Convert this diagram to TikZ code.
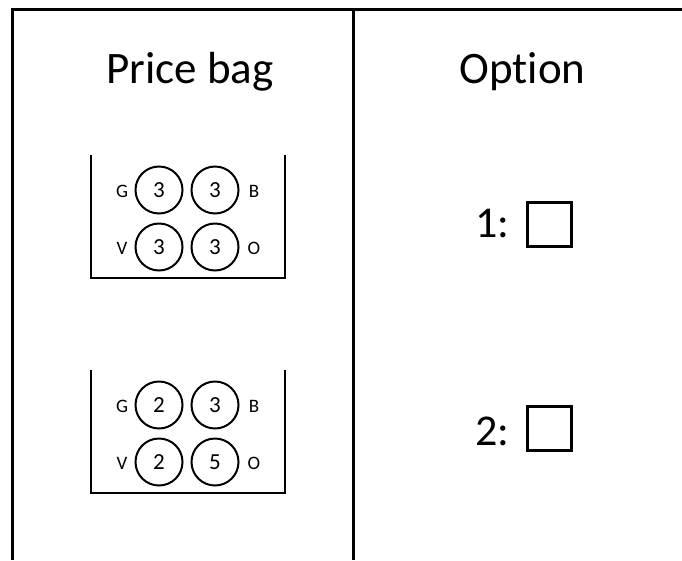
\documentclass[tikz,border=0pt]{standalone}
\usepackage{fontspec}
\setmainfont{Carlito}[Ligatures={NoCommon}]
\begin{document}
\begin{tikzpicture}[x=1pt,y=-1pt,
  frame/.style={line width=3pt},
  bagline/.style={line width=2.5pt},
  ball/.style={circle,draw,line width=2pt,minimum size=47pt,inner sep=0pt,font=\fontsize{23}{26}\selectfont},
  colorlbl/.style={anchor=base,inner sep=0pt,font=\fontsize{19}{22}\selectfont},
  heading/.style={anchor=base,inner sep=0pt,font=\fontsize{45}{54}\selectfont},
  optlbl/.style={anchor=base west,inner sep=0pt,font=\fontsize{44}{52}\selectfont},
  tick/.style={draw,line width=2.5pt,minimum size=44pt,inner sep=0pt}]
\useasboundingbox (0,0) rectangle (682,560);
% frame
\coordinate (tl) at (12.5,9.5);
\coordinate (tr) at (682,9.5);
\coordinate (bl) at (12.5,560);
\coordinate (tm) at (353.5,9.5);
\coordinate (bm) at (353.5,560);
\draw[frame] (tr) -- (tl) -- (bl);
\draw[frame] (tm) -- (bm);
% headings
\node[heading] (h1) at (190,83) {Price bag};
\node[heading] (h2) at (522.5,83) {Option};
% bag 1
\coordinate (b1a) at (91,155);
\coordinate (b1b) at (285,155);
\draw[bagline] (b1a) |- (285,278) -- (b1b);
\node[ball] (g1) at (159,190) {3};
\node[ball] (bb1) at (215,190) {3};
\node[ball] (v1) at (159,247) {3};
\node[ball] (o1) at (215,247) {3};
\node[colorlbl] (lg1) at (122,197) {G};
\node[colorlbl] (lb1) at (254,197) {B};
\node[colorlbl] (lv1) at (122,254) {V};
\node[colorlbl] (lo1) at (254,254) {O};
% bag 2
\coordinate (b2a) at (91,370);
\coordinate (b2b) at (285,370);
\draw[bagline] (b2a) |- (285,493) -- (b2b);
\node[ball] (g2) at (159,405) {2};
\node[ball] (bb2) at (215,405) {3};
\node[ball] (v2) at (159,462) {2};
\node[ball] (o2) at (215,462) {5};
\node[colorlbl] (lg2) at (122,412) {G};
\node[colorlbl] (lb2) at (254,412) {B};
\node[colorlbl] (lv2) at (122,469) {V};
\node[colorlbl] (lo2) at (254,469) {O};
% options
\node[optlbl] (n1) at (475,237) {1:};
\node[tick] (c1) at (549.5,224.5) {};
\node[optlbl] (n2) at (475,445) {2:};
\node[tick] (c2) at (549.5,428.5) {};
\end{tikzpicture}
\end{document}
